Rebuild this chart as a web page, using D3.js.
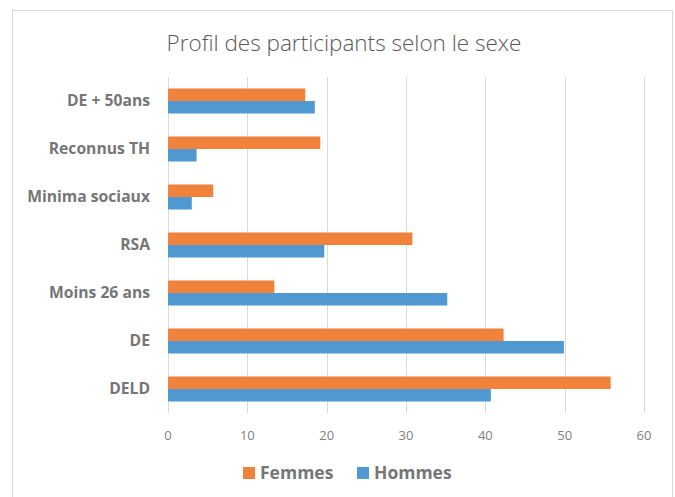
<!DOCTYPE html>
<html>
<head>
<meta charset="utf-8">
<script src="https://cdn.jsdelivr.net/npm/d3@7"></script>
<style>
  body { margin: 0; background: #fff; }
  svg text { font-family: "Open Sans", Lato, sans-serif; }
</style>
</head>
<body>
<div id="chart"></div>
<script>
// data
var categories = ["DE + 50ans", "Reconnus TH", "Minima sociaux", "RSA", "Moins 26 ans", "DE", "DELD"];
var series = ["Femmes", "Hommes"];
var femmes = [17.3, 19.2, 5.7, 30.8, 13.4, 42.3, 55.8];
var hommes = [18.5, 3.6, 3.0, 19.7, 35.2, 49.9, 40.7];
var ticks = [0, 10, 20, 30, 40, 50, 60];

var colors = { Femmes: "#F0823C", Hommes: "#4F98D2" };

var width = 675, height = 497;
var plot = { left: 168, right: 644, top: 77, bottom: 413 };

var svg = d3.select("#chart").append("svg")
  .attr("width", width)
  .attr("height", height);

// chart border
svg.append("rect")
  .attr("x", 12.5).attr("y", 10.5)
  .attr("width", 660).attr("height", 500)
  .attr("fill", "#fff")
  .attr("stroke", "#D9D9D9");

// title
svg.append("text")
  .attr("x", 344).attr("y", 51)
  .attr("text-anchor", "middle")
  .style("font-size", "22.5px")
  .style("font-weight", 300)
  .attr("fill", "#595959")
  .text("Profil des participants selon le sexe");

var x = d3.scaleLinear().domain([0, 60]).range([plot.left, plot.right]);

var y = d3.scaleBand()
  .domain(categories)
  .range([plot.top, plot.bottom]);

var inner = d3.scaleBand()
  .domain(series)
  .range([0, y.bandwidth()])
  .paddingOuter(0.92)
  .paddingInner(0);

// gridlines
svg.append("g").selectAll("line")
  .data(ticks)
  .enter().append("line")
  .attr("x1", function (d) { return Math.round(x(d)) + 0.5; })
  .attr("x2", function (d) { return Math.round(x(d)) + 0.5; })
  .attr("y1", plot.top)
  .attr("y2", plot.bottom)
  .attr("stroke", "#D9D9D9")
  .attr("stroke-width", 1);

// tick labels
svg.append("g").selectAll("text")
  .data(ticks)
  .enter().append("text")
  .attr("x", function (d) { return x(d); })
  .attr("y", 440)
  .attr("text-anchor", "middle")
  .style("font-size", "13px")
  .attr("fill", "#7F7F7F")
  .text(function (d) { return d; });

// bars
var rows = categories.map(function (c, i) {
  return { cat: c, Femmes: femmes[i], Hommes: hommes[i] };
});

var groups = svg.append("g").selectAll("g")
  .data(rows)
  .enter().append("g")
  .attr("transform", function (d) { return "translate(0," + y(d.cat) + ")"; });

groups.selectAll("rect")
  .data(function (d) {
    return series.map(function (s) { return { key: s, value: d[s] }; });
  })
  .enter().append("rect")
  .attr("x", x(0))
  .attr("y", function (d) { return inner(d.key); })
  .attr("width", function (d) { return x(d.value) - x(0); })
  .attr("height", inner.bandwidth())
  .attr("fill", function (d) { return colors[d.key]; });

// category labels
svg.append("g").selectAll("text")
  .data(categories)
  .enter().append("text")
  .attr("x", 150)
  .attr("y", function (d) { return y(d) + y.bandwidth() / 2; })
  .attr("dy", "0.35em")
  .attr("text-anchor", "end")
  .style("font-size", "15.7px")
  .style("font-weight", "bold")
  .attr("fill", "#767676")
  .text(function (d) { return d; });

// legend
var legend = svg.append("g");
var legendX = [243, 357];
series.forEach(function (s, i) {
  legend.append("rect")
    .attr("x", legendX[i]).attr("y", 467)
    .attr("width", 12).attr("height", 12)
    .attr("fill", colors[s]);
  legend.append("text")
    .attr("x", legendX[i] + 17).attr("y", 473)
    .attr("dy", "0.35em")
    .style("font-size", "17.5px")
    .style("font-weight", "bold")
    .attr("fill", "#767676")
    .text(s);
});
</script>
</body>
</html>
